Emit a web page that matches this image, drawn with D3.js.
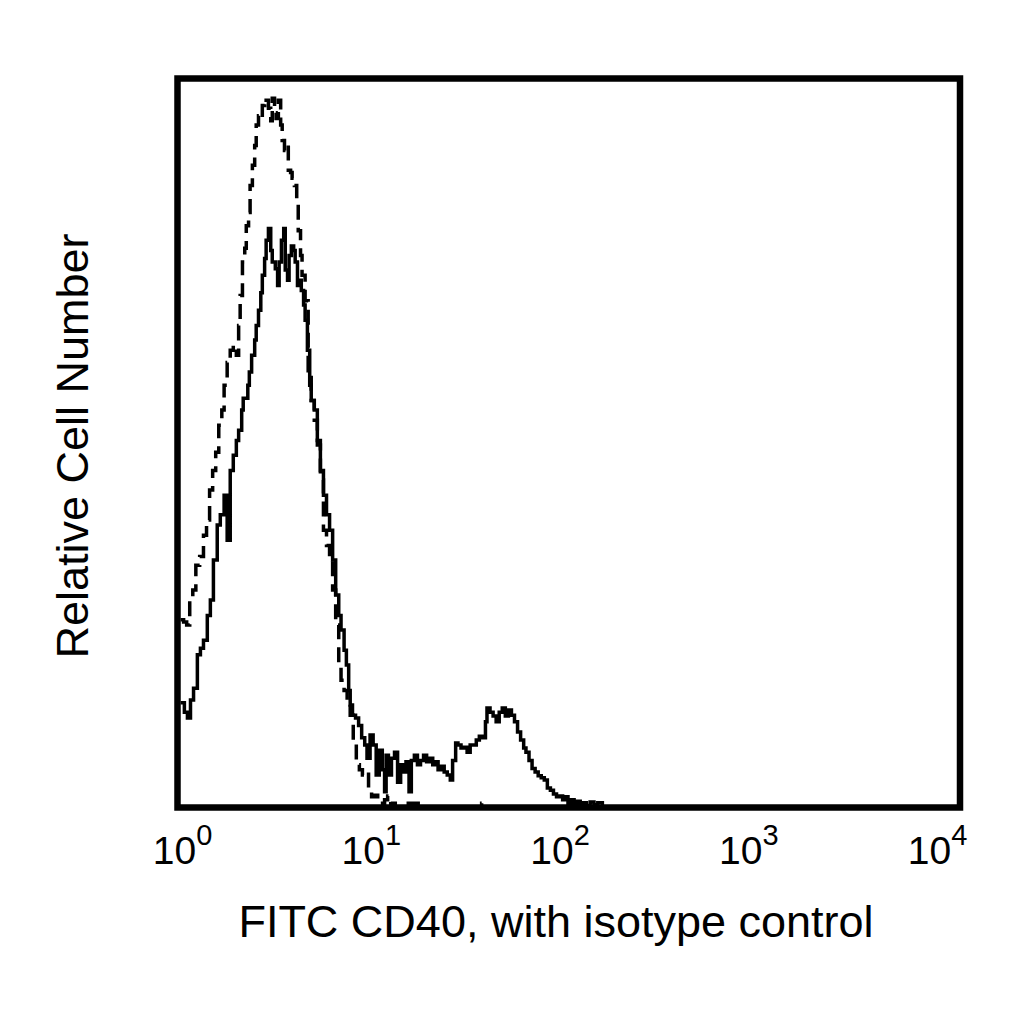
<!DOCTYPE html>
<html>
<head>
<meta charset="utf-8">
<script src="https://cdn.jsdelivr.net/npm/d3@7.9.0/dist/d3.min.js"></script>
<style>
  body { margin: 0; background: #fff; }
  svg { display: block; }
  text { font-family: "Liberation Sans", Arial, Helvetica, sans-serif; fill: #000; }
</style>
</head>
<body>
<svg id="chart" width="1024" height="1024"></svg>
<script>
// histogram channels (1024 channels over 4 decades) and relative counts
const cd40Channel = [4, 9, 13, 17, 21, 26, 30, 34, 39, 43, 47, 52, 56, 61, 65, 69, 73, 77, 80, 84, 86, 92, 94, 97, 101, 103, 106, 109, 111, 114, 116, 119, 122, 124, 128, 131, 133, 136, 139, 141, 144, 146, 149, 152, 154, 157, 160, 162, 165, 167, 170, 173, 175, 179, 183, 187, 191, 195, 199, 203, 207, 211, 214, 218, 221, 224, 226, 229, 233, 237, 241, 245, 248, 252, 256, 260, 264, 268, 271, 273, 276, 280, 284, 288, 292, 296, 299, 303, 306, 310, 314, 318, 322, 326, 330, 334, 337, 341, 345, 349, 353, 357, 360, 364, 367, 371, 375, 379, 383, 387, 391, 395, 399, 403, 405, 409, 413, 417, 421, 425, 429, 433, 437, 441, 445, 449, 453, 456, 460, 464, 468, 472, 476, 480, 484, 488, 492, 496, 500, 504, 507, 511, 515, 519, 523, 527, 531, 535, 540, 545, 550, 556];
const cd40Count = [14.3, 13.0, 12.2, 14.7, 16.3, 20.9, 21.8, 22.9, 26.3, 28.4, 33.9, 38.7, 40.1, 42.8, 36.6, 46.2, 48.3, 50.3, 51.7, 54.5, 56.1, 57.9, 59.7, 62.0, 64.1, 66.1, 68.2, 70.6, 73.0, 75.3, 77.8, 79.4, 76.4, 74.8, 73.9, 71.6, 74.8, 77.8, 79.4, 73.7, 72.3, 75.7, 77.0, 76.4, 74.8, 71.6, 72.3, 70.9, 68.9, 66.8, 62.7, 57.9, 55.8, 54.5, 50.3, 46.2, 42.8, 40.1, 38.0, 33.9, 29.1, 26.3, 24.3, 21.5, 19.5, 16.0, 14.0, 12.6, 12.2, 11.2, 9.5, 8.5, 6.7, 9.9, 8.5, 4.4, 7.8, 5.1, 2.1, 7.1, 4.4, 6.7, 7.5, 3.4, 5.8, 4.8, 6.2, 2.1, 6.4, 7.1, 5.8, 6.4, 7.1, 6.2, 6.7, 5.8, 6.2, 5.1, 5.6, 4.8, 4.4, 3.7, 6.4, 8.8, 8.5, 8.1, 8.2, 7.5, 8.5, 8.5, 9.2, 9.7, 9.5, 11.7, 13.6, 13.0, 12.5, 11.7, 13.0, 13.6, 12.5, 13.3, 12.6, 11.7, 10.3, 9.2, 8.1, 7.5, 6.4, 5.3, 4.8, 4.3, 4.0, 3.7, 2.6, 2.3, 1.8, 1.4, 1.5, 1.0, 1.4, 0.5, 1.0, 0.4, 0.8, 0.4, 0.6, 0.2, 0.7, 0.3, 0.6, 0];

const isoChannel = [4, 8, 12, 16, 20, 24, 29, 34, 38, 42, 46, 50, 54, 58, 61, 65, 69, 73, 77, 80, 82, 85, 88, 90, 93, 95, 98, 101, 103, 106, 109, 111, 114, 116, 119, 122, 124, 127, 129, 132, 135, 137, 140, 143, 145, 148, 150, 153, 156, 158, 161, 163, 167, 171, 175, 179, 183, 187, 191, 195, 199, 203, 207, 211, 214, 218, 222, 226, 230, 234, 238, 242, 246, 250, 254, 258, 262, 265, 271, 275, 279, 285, 302, 315, 319, 398, 401, 409];
const isoCount = [25.7, 25.4, 25.0, 28.4, 29.8, 33.2, 34.4, 37.3, 39.4, 43.5, 46.2, 48.7, 52.4, 54.5, 57.9, 61.0, 62.7, 63.4, 62.0, 66.1, 70.2, 74.8, 76.7, 79.8, 81.6, 85.3, 88.1, 90.8, 93.6, 94.9, 94.5, 96.3, 97.3, 97.0, 95.9, 94.2, 97.3, 95.3, 94.5, 97.0, 93.6, 91.5, 90.1, 90.8, 87.4, 87.1, 86.3, 85.3, 83.3, 79.1, 75.7, 73.0, 69.5, 59.9, 55.8, 53.1, 49.7, 44.9, 38.0, 35.9, 33.9, 29.8, 25.0, 19.5, 17.4, 16.0, 14.7, 12.6, 9.2, 5.8, 5.1, 4.4, 4.8, 2.3, 1.4, 1.6, 1.0, 0.5, 1.0, 1.5, 0.5, 0, 0.5, 0.5, 0, 0.5, 0, 0];

const tickValues = [1, 10, 100, 1000, 10000];
const tickExponents = ['0', '1', '2', '3', '4'];

const xTitle = 'FITC CD40, with isotype control';
const yTitle = 'Relative Cell Number';

const svg = d3.select('#chart');

const plot = { left: 177.5, right: 960, top: 78.5, bottom: 807.5 };

const x = d3.scaleLog().domain([1, 10000]).range([plot.left, plot.right]);
const y = d3.scaleLinear().domain([0, 100]).range([plot.bottom - 0.5, plot.top]);
// the printed labels sit slightly inside the decade marks
const xLabel = d3.scaleLog().domain([1, 10000]).range([182, 937]);

const toIntensity = ch => Math.pow(10, ch / 256);

function series(channels, counts) {
  return channels.map((c, i) => ({ v: toIntensity(c), n: counts[i] }));
}

const line = d3.line()
  .x(d => x(d.v))
  .y(d => y(d.n))
  .curve(d3.curveStepAfter);

svg.append('path')
  .datum(series(isoChannel, isoCount))
  .attr('d', line)
  .attr('fill', 'none')
  .attr('stroke', '#000')
  .attr('stroke-width', 3.5)
  .attr('stroke-dasharray', '15,8');

svg.append('path')
  .datum(series(cd40Channel, cd40Count))
  .attr('d', line)
  .attr('fill', 'none')
  .attr('stroke', '#000')
  .attr('stroke-width', 3.5);

// frame
svg.append('rect')
  .attr('x', plot.left)
  .attr('y', plot.top)
  .attr('width', plot.right - plot.left)
  .attr('height', plot.bottom - plot.top)
  .attr('fill', 'none')
  .attr('stroke', '#000')
  .attr('stroke-width', 6.5);

// x tick labels
const axis = svg.append('g')
  .attr('transform', `translate(0,${plot.bottom})`)
  .call(d3.axisBottom(xLabel).tickValues(tickValues).tickSize(0).tickFormat(''));
axis.select('.domain').remove();
axis.selectAll('.tick text').remove();
axis.selectAll('.tick').each(function (d, i) {
  const t = d3.select(this).append('text')
    .attr('y', 56)
    .attr('text-anchor', 'middle')
    .style('font-size', '39px');
  t.append('tspan').text('10');
  t.append('tspan')
    .attr('dy', -19)
    .style('font-size', '29px')
    .text(tickExponents[i]);
});

svg.append('text')
  .attr('x', 556)
  .attr('y', 937)
  .attr('text-anchor', 'middle')
  .style('font-size', '45px')
  .text(xTitle);

svg.append('text')
  .attr('transform', 'translate(88,446) rotate(-90)')
  .attr('text-anchor', 'middle')
  .style('font-size', '45px')
  .text(yTitle);
</script>
</body>
</html>
